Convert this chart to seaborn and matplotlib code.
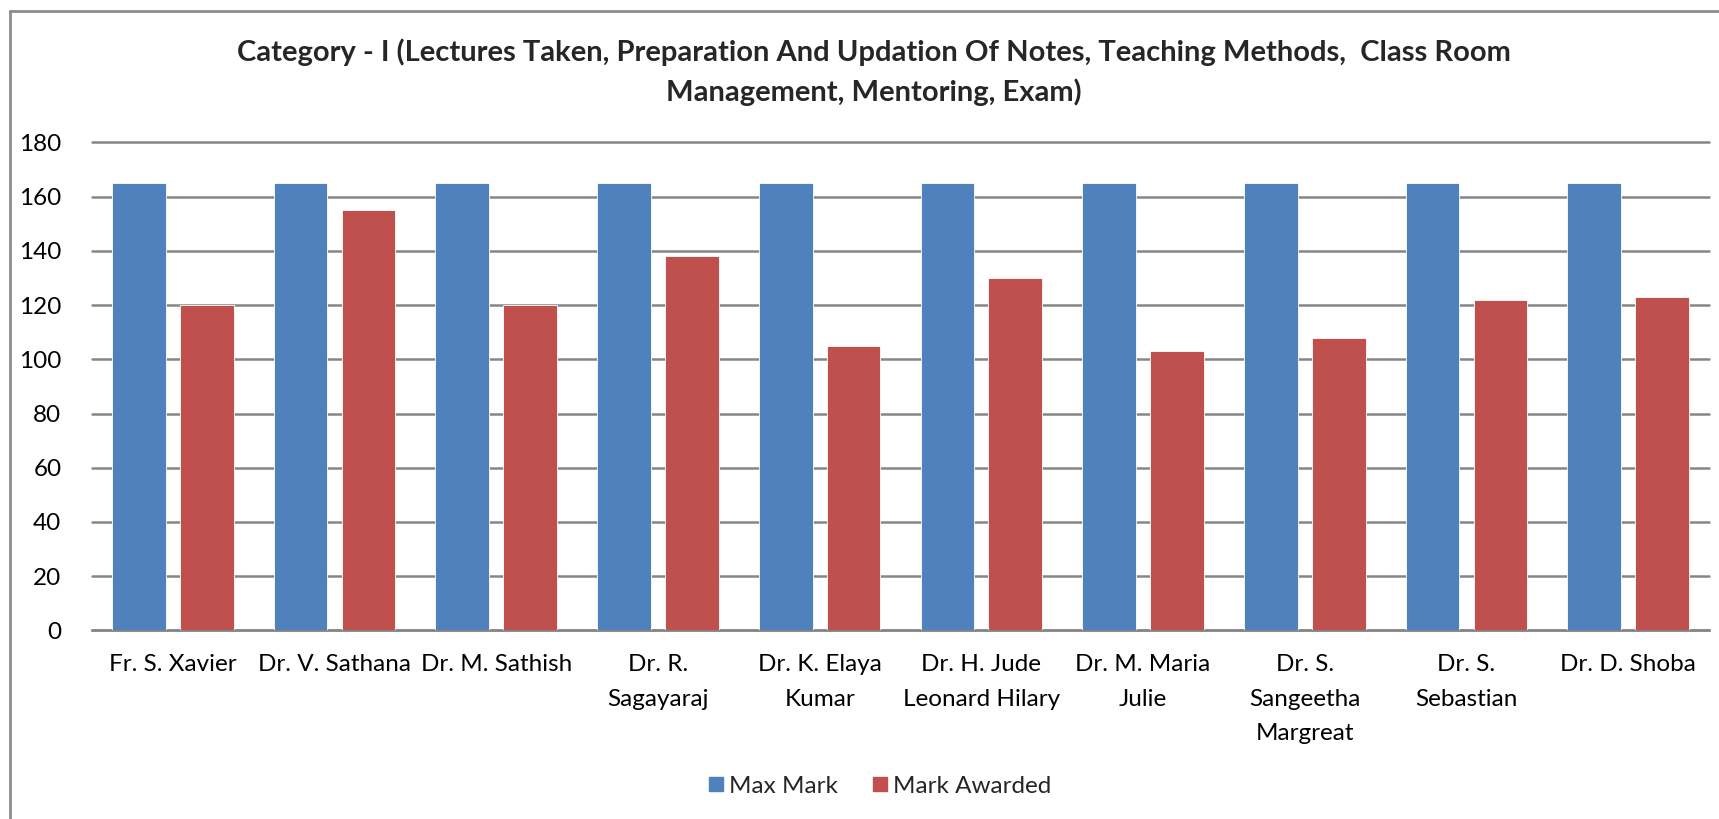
import numpy as np
import pandas as pd
import matplotlib
matplotlib.use("Agg")
import matplotlib.pyplot as plt
from matplotlib.lines import Line2D
import seaborn as sns

teachers = ["Fr. S. Xavier", "Dr. V. Sathana", "Dr. M. Sathish", "Dr. R.\nSagayaraj",
            "Dr. K. Elaya\nKumar", "Dr. H. Jude\nLeonard Hilary", "Dr. M. Maria\nJulie",
            "Dr. S.\nSangeetha\nMargreat", "Dr. S.\nSebastian", "Dr. D. Shoba"]
max_mark = [165, 165, 165, 165, 165, 165, 165, 165, 165, 165]
mark_awarded = [120, 155, 120, 138, 105, 130, 103, 108, 122, 123]
series = ["Max Mark", "Mark Awarded"]
colors = ["#4F81BD", "#C0504D"]

df = pd.DataFrame({"teacher": teachers * 2,
                   "series": [series[0]] * len(teachers) + [series[1]] * len(teachers),
                   "mark": max_mark + mark_awarded})

sns.set_style("white")
plt.rcParams['font.family'] = ['Lato', 'DejaVu Sans']

fig = plt.figure(figsize=(17.19, 8.19), dpi=100)
ax = fig.add_axes([92/1719, 1 - 630.4/819, (1709-92)/1719, (630.4-142.5)/819])

sns.barplot(data=df, x="teacher", y="mark", hue="series", palette=colors,
            width=0.84, gap=0.21, ax=ax, legend=False, saturation=1,
            edgecolor="white", linewidth=0.6, zorder=3)

ax.set_ylim(0, 180)
ax.set_xlim(-0.5, len(teachers) - 0.5)
ax.set_yticks(np.arange(0, 181, 20))
ax.yaxis.grid(True, color="#868686", linewidth=1.8, zorder=0)
for gl in ax.get_ygridlines():
    gl.set_clip_on(False)
ax.set_axisbelow(True)
for s in ["top", "right", "left"]:
    ax.spines[s].set_visible(False)
ax.spines["bottom"].set_color("#868686")
ax.spines["bottom"].set_linewidth(1.8)
ax.tick_params(axis="both", length=0, labelsize=17.5, colors="black")
ax.tick_params(axis="y", pad=22)
ax.tick_params(axis="x", pad=17)
for lbl in ax.get_xticklabels():
    lbl.set_linespacing(1.8)
ax.set_xlabel("")
ax.set_ylabel("")

fig.text(874/1719, 1 - 52/819,
         "Category - I (Lectures Taken, Preparation And Updation Of Notes, Teaching Methods,  Class Room",
         ha="center", va="center", fontsize=21, fontweight="bold")
fig.text(874/1719, 1 - 92/819, "Management, Mentoring, Exam)",
         ha="center", va="center", fontsize=21, fontweight="bold")

handles = [Line2D([], [], marker="s", linestyle="", markersize=10, color=c) for c in colors]
fig.legend(handles, series, loc="center", bbox_to_anchor=(880/1719, 1 - 786/819),
           ncol=2, frameon=False, fontsize=17.5, handlelength=0.6,
           handletextpad=0.25, columnspacing=1.4)

# chart frame (left and top edges visible)
fig.add_artist(Line2D([10/1719, 10/1719], [0, 1 - 11/819], transform=fig.transFigure,
                      color="#8c8c8c", linewidth=2))
fig.add_artist(Line2D([10/1719, 1], [1 - 11/819, 1 - 11/819], transform=fig.transFigure,
                      color="#8c8c8c", linewidth=2))

fig.savefig("out.png", dpi=100)
